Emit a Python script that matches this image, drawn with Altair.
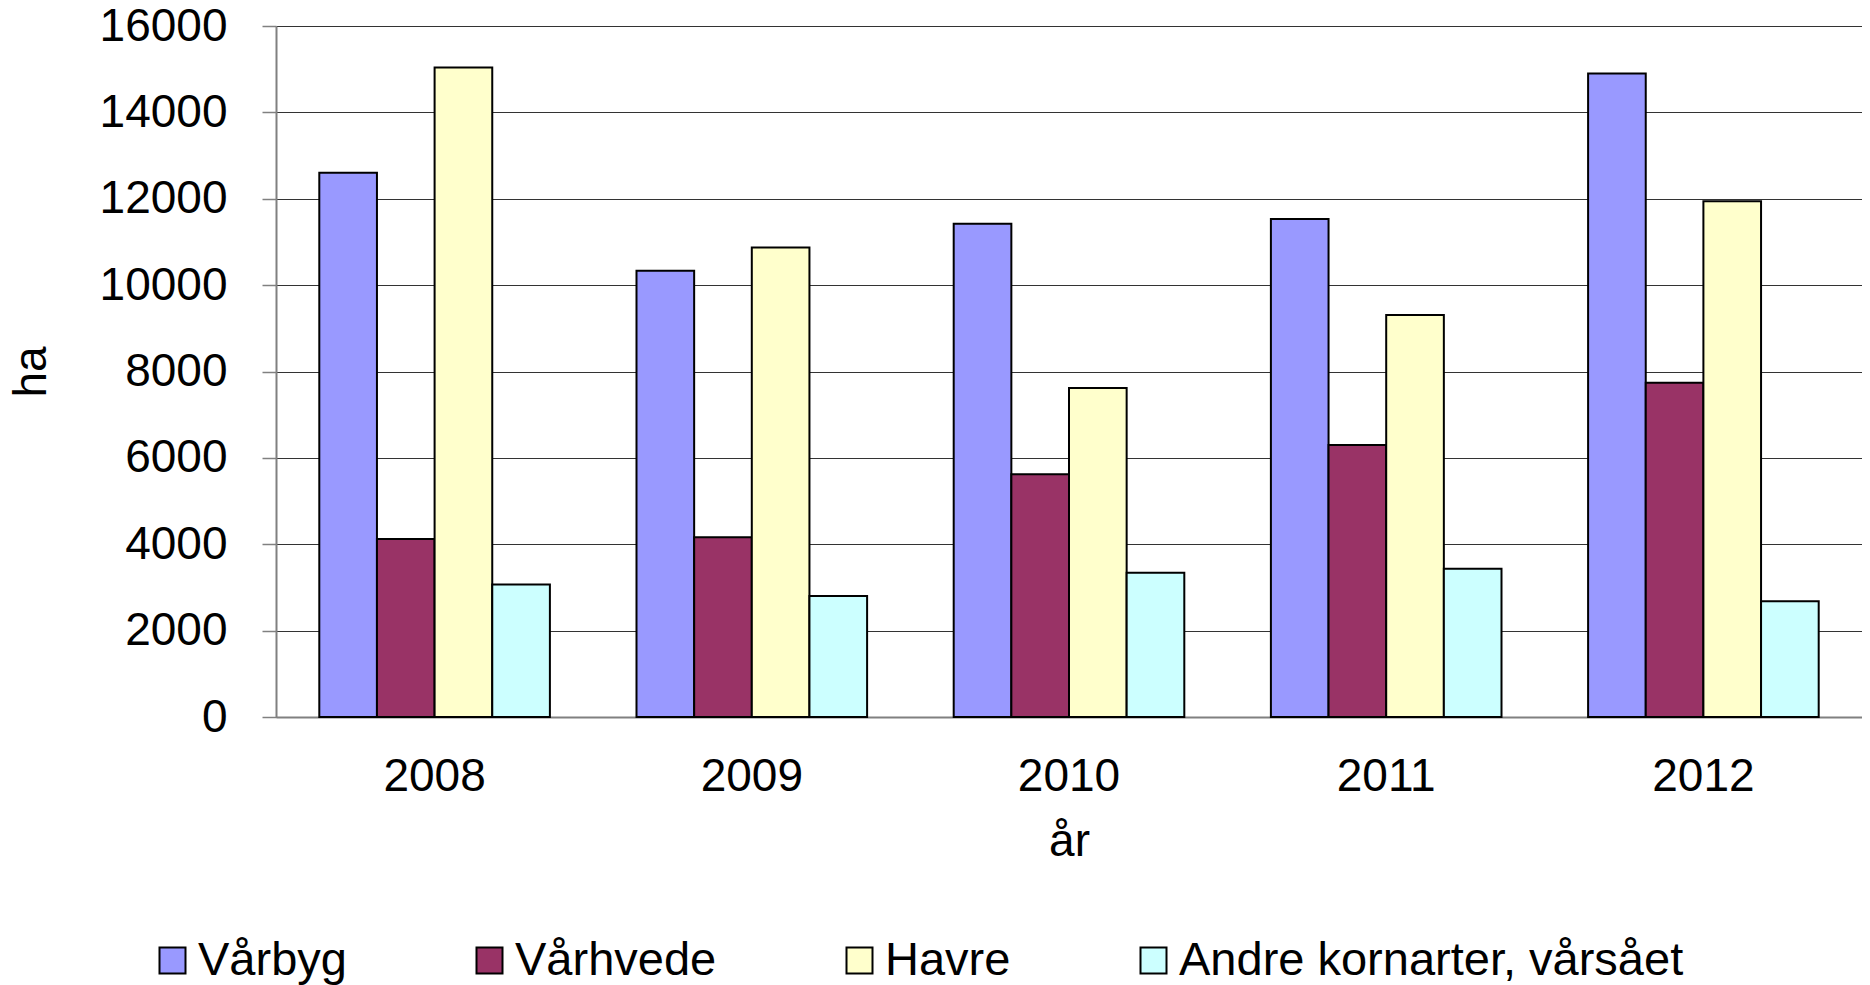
import altair as alt
import pandas as pd

years = ["2008", "2009", "2010", "2011", "2012"]
series = ["Vårbyg", "Vårhvede", "Havre", "Andre kornarter, vårsået"]
vaarbyg = [12600, 10330, 11420, 11530, 14900]
vaarhvede = [4120, 4160, 5620, 6300, 7740]
havre = [15040, 10870, 7620, 9310, 11940]
andre = [3070, 2800, 3340, 3430, 2680]
colors = ["#9999FF", "#993366", "#FFFFCC", "#CCFFFF"]
y_ticks = [0, 2000, 4000, 6000, 8000, 10000, 12000, 14000, 16000]

rows = []
for name, vals in zip(series, [vaarbyg, vaarhvede, havre, andre]):
    for yr, v in zip(years, vals):
        rows.append({"år": yr, "serie": name, "ha": v})
df = pd.DataFrame(rows)

FONT = "Liberation Sans"

chart = alt.Chart(df).mark_bar(stroke="black", strokeWidth=2).encode(
    x=alt.X("år:N", sort=years,
            scale=alt.Scale(paddingInner=0.273, paddingOuter=0.1365),
            axis=alt.Axis(title="år", labelAngle=0, ticks=False, labelPadding=37,
                          labelFontSize=46, titleFontSize=46, titleFontWeight="normal",
                          titlePadding=20, domainColor="#808080", domainWidth=2,
                          labelFont=FONT, titleFont=FONT, labelColor="black", titleColor="black")),
    xOffset=alt.XOffset("serie:N", sort=series, scale=alt.Scale(paddingInner=0, paddingOuter=0)),
    y=alt.Y("ha:Q", scale=alt.Scale(domain=[0, 16000], nice=False),
            axis=alt.Axis(title="ha", values=y_ticks, format="d", tickSize=14,
                          tickColor="#808080", tickWidth=1.5, labelPadding=35,
                          labelFontSize=46, titleFontSize=46, titleFontWeight="normal",
                          titlePadding=44, domainColor="#808080", domainWidth=2,
                          gridColor="#333333", gridWidth=1,
                          labelFont=FONT, titleFont=FONT, labelColor="black", titleColor="black")),
    color=alt.Color("serie:N", sort=series,
                    scale=alt.Scale(domain=series, range=colors),
                    legend=alt.Legend(title=None, orient="none", direction="horizontal",
                                      legendX=-127, legendY=911,
                                      symbolType="square", symbolSize=676,
                                      symbolStrokeColor="black", symbolStrokeWidth=2,
                                      symbolOpacity=1,
                                      labelFontSize=47, labelFont=FONT, labelColor="black",
                                      labelOffset=2, columnPadding=119, gridAlign="none",
                                      labelLimit=1000, padding=0)),
).properties(
    width=1586, height=691,
    autosize=alt.AutoSizeParams(type="none"),
    padding={"left": 268, "top": 18, "right": 0, "bottom": 268},
).configure_view(
    stroke="#808080", strokeWidth=2
).configure(background="white")

chart.save("out.html", embed_options={"renderer": "svg", "actions": False})
